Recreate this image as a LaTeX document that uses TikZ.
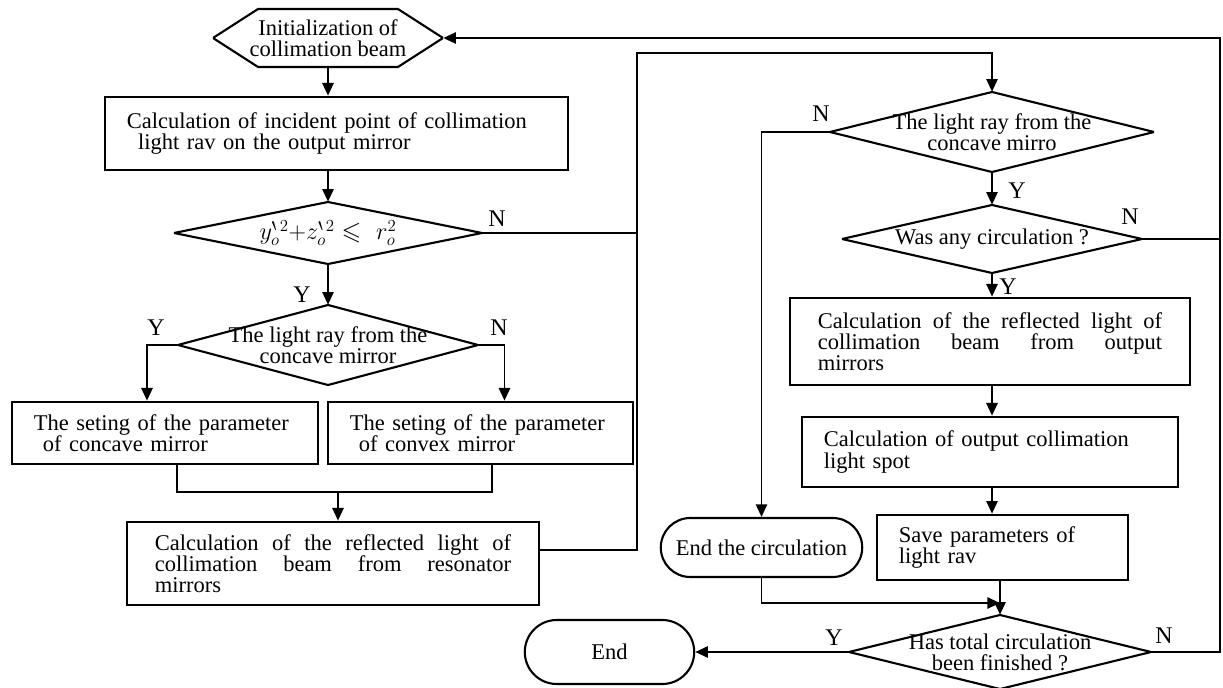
\documentclass[tikz,border=0pt]{standalone}
\usepackage{amsmath,amssymb}
\usepackage{fontspec}
\setmainfont{Liberation Serif}
\usepackage{tikz}
\usetikzlibrary{arrows.meta, positioning, shapes.misc, calc}
\tolerance=10000
\hbadness=10000
\hyphenpenalty=10000

\begin{document}
\begin{tikzpicture}[x=0.025cm, y=-0.025cm,
        txt/.style={font=\fontsize{16}{15}\selectfont},
        box/.style={txt, draw, line width=1.9pt, inner xsep=0.55cm, inner ysep=2pt, align=left},
        jbox/.style={box, inner xsep=0.7cm, align=justify},
        decision/.style={txt, inner sep=0pt, align=center,
            path picture={\draw[line width=1.5pt] (path picture bounding box.north) -- (path picture bounding box.east) -- (path picture bounding box.south) -- (path picture bounding box.west) -- cycle;}},
        prepbox/.style={txt, inner sep=0pt, align=center, minimum width=5.75cm, minimum height=1.5cm,
            path picture={\draw[line width=1.5pt] (path picture bounding box.west) -- ([shift={(1.125cm,-0.75pt)}]path picture bounding box.north west) -- ([shift={(-1.125cm,-0.75pt)}]path picture bounding box.north east) -- (path picture bounding box.east) -- ([shift={(-1.125cm,0.75pt)}]path picture bounding box.south east) -- ([shift={(1.125cm,0.75pt)}]path picture bounding box.south west) -- cycle;}},
        terminal/.style={txt, draw, rounded rectangle, line width=1.5pt, inner sep=2pt},
        yn/.style={font=\fontsize{17}{17}\selectfont, inner sep=0pt},
        conn/.style={line width=1.4pt},
        arrowstyle/.style={conn, -{Triangle[length=9pt, width=8pt]}}
    ]
    \useasboundingbox (0,0) rectangle (1223,688);

    % left column
    \node[prepbox] (init) at (328,38) {Initialization of\\collimation beam};
    \node[box, text width=10.475cm, minimum height=1.825cm] (calc1) at (336.5,133.5) {Calculation of incident point of collimation\\\hspace*{0.5em}light rav on the output mirror};
    \node[decision, minimum width=7.7cm, minimum height=1.55cm, font=\fontsize{18}{18}\selectfont] (dec1) at (328,233) {$y^{\backprime}_{o}{}^{2}{+}z^{\backprime}_{o}{}^{2}\leqslant\,\, r^{2}_{o}$};
    \node[decision, minimum width=7.5cm, minimum height=2cm] (dec2) at (328,345) {The light ray from the\\concave mirror};
    \node[box, text width=6.55cm, minimum height=1.55cm] (concave) at (165,433) {The seting of the parameter\\\hspace*{0.4em}of concave mirror};
    \node[box, text width=6.525cm, minimum height=1.55cm] (convex) at (480.5,433) {The seting of the parameter\\\hspace*{0.4em}of convex mirror};
    \node[jbox, text width=8.9cm, minimum height=2.075cm] (reso) at (333,563.5) {Calculation of the reflected light of\linebreak collimation beam from resonator\linebreak mirrors};

    % right column
    \node[decision, minimum width=8.1cm, minimum height=2cm] (dec3) at (992,132) {The light ray from the\\concave mirro};
    \node[decision, minimum width=7.5cm, minimum height=1.7cm] (dec4) at (992,239) {Was any circulation ?};
    \node[jbox, text width=8.6cm, minimum height=2.175cm] (outrefl) at (990,341.5) {Calculation of the reflected light of\linebreak collimation beam from output\linebreak mirrors};
    \node[box, text width=8.3cm, minimum height=1.75cm] (spot) at (990,452) {Calculation of output collimation\\light spot};
    \node[box, text width=5.175cm, minimum height=1.625cm] (save) at (1002.5,547.5) {Save parameters of\\light rav};
    \node[terminal, minimum width=5.175cm, minimum height=1.475cm] (endc) at (761.5,547.5) {End the circulation};
    \node[decision, minimum width=7.55cm, minimum height=1.85cm] (dec5) at (1000,652) {Has total circulation\\been finished ?};
    \node[terminal, minimum width=4.375cm, minimum height=1.6cm] (fin) at (609.5,652) {End};

    \coordinate (tr) at (1220,38);
    \coordinate (lp) at (637,53);
    \coordinate (merge) at (338,492);
    \coordinate (join) at (1000,603);

    % Y / N labels
    \node[yn] (n1) at (497,219) {N};
    \node[yn] (y1) at (302,295) {Y};
    \node[yn] (y2) at (156,328) {Y};
    \node[yn] (n2) at (499,328) {N};
    \node[yn] (n3) at (821,114) {N};
    \node[yn] (y3) at (1017,191) {Y};
    \node[yn] (n4) at (1130,217) {N};
    \node[yn] (y4) at (1008,287) {Y};
    \node[yn] (y5) at (834,638) {Y};
    \node[yn] (n5) at (1164,636) {N};

    % connectors, left
    \draw[arrowstyle] (init.south) -- (init.south |- calc1.north);
    \draw[arrowstyle] (dec1.north |- calc1.south) -- (dec1.north);
    \draw[arrowstyle] (dec1.south) -- (dec2.north);
    \draw[conn] (dec1.east) -- (dec1.east -| lp);
    \draw[arrowstyle] (dec2.west) -| ([xshift=-0.45cm]concave.north);
    \draw[arrowstyle] (dec2.east) -| ([xshift=0.6cm]convex.north);
    \draw[conn] ([xshift=0.3cm]concave.south) |- (merge) -| ([xshift=0.29cm]convex.south);
    \draw[arrowstyle] (merge) -- (merge |- reso.north);
    \draw[arrowstyle] ([yshift=0.34cm]reso.east) -| (lp) -| (dec3.north);

    % connectors, right
    \draw[arrowstyle] (dec3.south) -- (dec4.north);
    \draw[arrowstyle] (dec3.west) -| (endc.north);
    \draw[arrowstyle] (dec4.south) -- (dec4.south |- outrefl.north);
    \draw[conn] (dec4.east) -- (dec4.east -| tr);
    \draw[arrowstyle] (dec4.south |- outrefl.south) -- (dec4.south |- spot.north);
    \draw[arrowstyle] (dec4.south |- spot.south) -- (dec4.south |- save.north);
    \draw[arrowstyle] (dec5.north |- save.south) -- (dec5.north);
    \draw[arrowstyle] (endc.south) |- (join);
    \draw[arrowstyle] (dec5.west) -- (fin.east);
    \draw[arrowstyle] (dec5.east) -| (tr) -- (init.east);
\end{tikzpicture}
\end{document}
